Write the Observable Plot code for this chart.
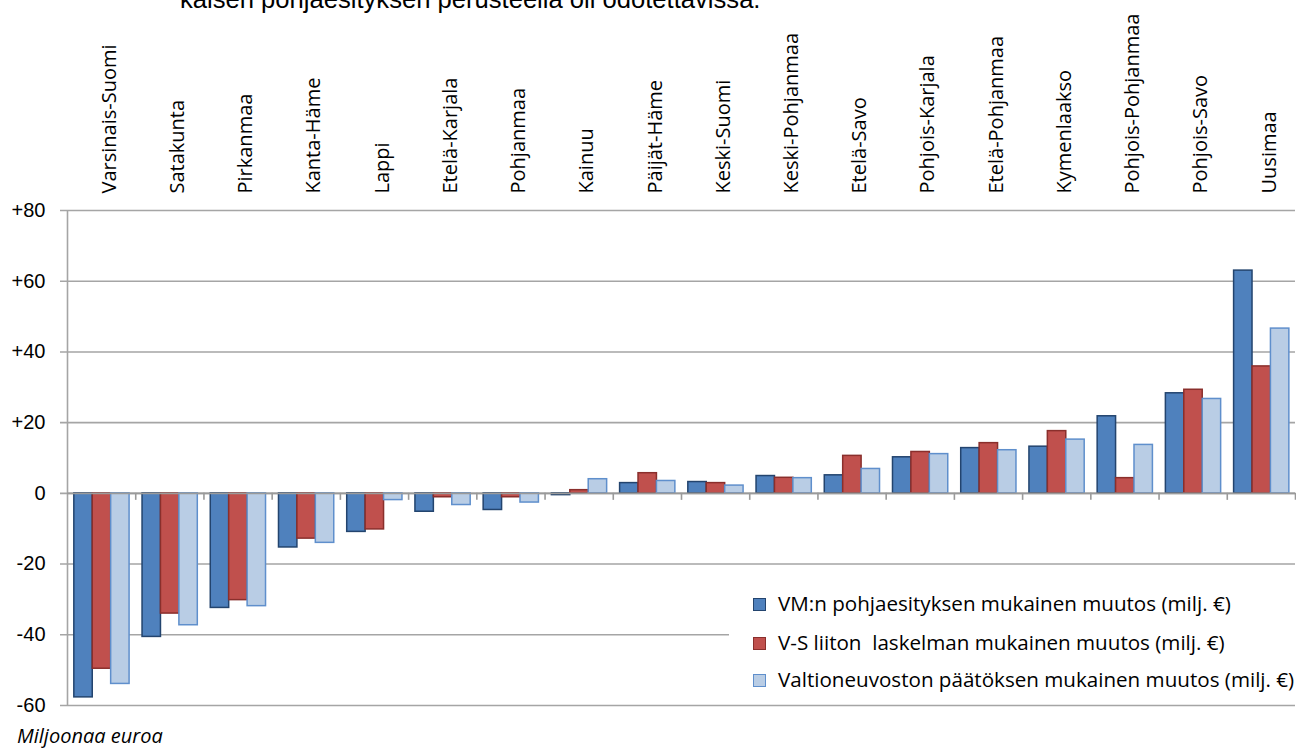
<!DOCTYPE html>
<html>
<head>
<meta charset="utf-8">
<script src="https://cdn.jsdelivr.net/npm/d3@7"></script>
<script src="https://cdn.jsdelivr.net/npm/@observablehq/plot@0.6"></script>
<style>
  body { margin: 0; background: #fff; }
  #wrap { position: relative; width: 1296px; height: 751px; overflow: hidden; background: #fff; }
  #wrap svg { position: absolute; left: 0; top: 0; }
  #topnote { position: absolute; left: 180px; top: -13px; font-family: "Liberation Sans", Arial, sans-serif; font-size: 25.6px; line-height: 25.6px; color: #000; white-space: nowrap; }
  #legend { position: absolute; left: 729px; top: 580px; width: 567px; height: 118px; background: #fff; font-family: "Open Sans", sans-serif; font-size: 20.6px; color: #000; }
  .li { position: absolute; left: 24px; height: 20px; line-height: 20px; white-space: nowrap; }
  .sw { position: absolute; left: 0; top: 3px; width: 11px; height: 11px; border: 1px solid; }
  .lt { position: absolute; left: 25px; top: -2px; }
  #caption { position: absolute; left: 17px; top: 722px; font-family: "Open Sans", sans-serif; font-style: italic; font-size: 20px; color: #000; white-space: nowrap; }
</style>
</head>
<body>
<div id="wrap">
  <div id="topnote">kaisen pohjaesityksen perusteella oli odotettavissa.</div>
</div>
<script>
const regions = ["Varsinais-Suomi","Satakunta","Pirkanmaa","Kanta-Häme","Lappi","Etelä-Karjala","Pohjanmaa","Kainuu","Päijät-Häme","Keski-Suomi","Keski-Pohjanmaa","Etelä-Savo","Pohjois-Karjala","Etelä-Pohjanmaa","Kymenlaakso","Pohjois-Pohjanmaa","Pohjois-Savo","Uusimaa"];
const seriesNames = ["VM:n pohjaesityksen mukainen muutos (milj. €)","V-S liiton  laskelman mukainen muutos (milj. €)","Valtioneuvoston päätöksen mukainen muutos (milj. €)"];
const vmValues = [-57.7,-40.6,-32.4,-15.3,-10.9,-5.2,-4.7,-0.5,2.9,3.2,4.9,5.1,10.2,12.8,13.2,21.8,28.3,63.0];
const vsValues = [-49.6,-34.0,-30.2,-12.8,-10.2,-1.1,-1.1,0.9,5.7,2.9,4.4,10.6,11.7,14.2,17.6,4.3,29.3,35.9];
const vnValues = [-53.9,-37.3,-31.9,-14.0,-1.9,-3.3,-2.6,4.0,3.5,2.2,4.3,6.9,11.1,12.2,15.2,13.7,26.7,46.6];
const yTicks = [-60,-40,-20,0,20,40,60,80];
const caption = "Miljoonaa euroa";

const fills = ["#4f81bd","#c0504d","#b9cde5"];
const strokes = ["#23446e","#8a2f2c","#5f8fcc"];

const seriesValues = [vmValues, vsValues, vnValues];
const data = [];
seriesValues.forEach((vals, s) => vals.forEach((v, i) => data.push({i, region: regions[i], s, value: v})));

const groupStart = 0.1, barW = 0.27;

const chart = Plot.plot({
  width: 1296,
  height: 751,
  marginTop: 210,
  marginBottom: 46,
  marginLeft: 67,
  marginRight: 1,
  style: {fontFamily: "'Liberation Sans', Arial, sans-serif", fontSize: "20px", color: "#000", background: "transparent"},
  x: {domain: [0, regions.length], axis: null},
  y: {domain: [-60, 80], ticks: yTicks, tickFormat: d => d > 0 ? "+" + d : String(d), tickSize: 0, tickPadding: 22, label: null},
  marks: [
    Plot.ruleY(yTicks, {stroke: "#a5a5a5", strokeWidth: 1.6, insetLeft: -7}),
    Plot.ruleX([0], {stroke: "#a5a5a5", strokeWidth: 1.6}),
    Plot.rectY(data, {
      x1: d => d.i + groupStart + barW * d.s,
      x2: d => d.i + groupStart + barW * (d.s + 1),
      y1: 0,
      y2: "value",
      fill: d => fills[d.s],
      stroke: d => strokes[d.s],
      strokeWidth: 1.5
    }),
    Plot.ruleY([0], {stroke: "#9a9a9a", strokeWidth: 1.8}),
    Plot.ruleX(d3.range(1, regions.length + 1), {y1: 0, y2: 0, insetBottom: -7, stroke: "#9a9a9a", strokeWidth: 1.6}),
    Plot.text(regions, {
      x: (d, i) => i + 0.5,
      frameAnchor: "top",
      rotate: -90,
      textAnchor: "start",
      dy: -17,
      fontFamily: "'Open Sans', sans-serif",
      fontSize: 20,
      fill: "#000"
    })
  ]
});

const wrap = document.getElementById("wrap");
wrap.appendChild(chart);

const legend = document.createElement("div");
legend.id = "legend";
const rowTops = [15, 54, 91];
seriesNames.forEach((name, s) => {
  const li = document.createElement("div");
  li.className = "li";
  li.style.top = rowTops[s] + "px";
  const sw = document.createElement("div");
  sw.className = "sw";
  sw.style.background = fills[s];
  sw.style.borderColor = strokes[s];
  const t = document.createElement("span");
  t.className = "lt";
  t.textContent = name;
  t.style.whiteSpace = "pre";
  li.appendChild(sw);
  li.appendChild(t);
  legend.appendChild(li);
});
wrap.appendChild(legend);

const cap = document.createElement("div");
cap.id = "caption";
cap.textContent = caption;
wrap.appendChild(cap);
</script>
</body>
</html>
